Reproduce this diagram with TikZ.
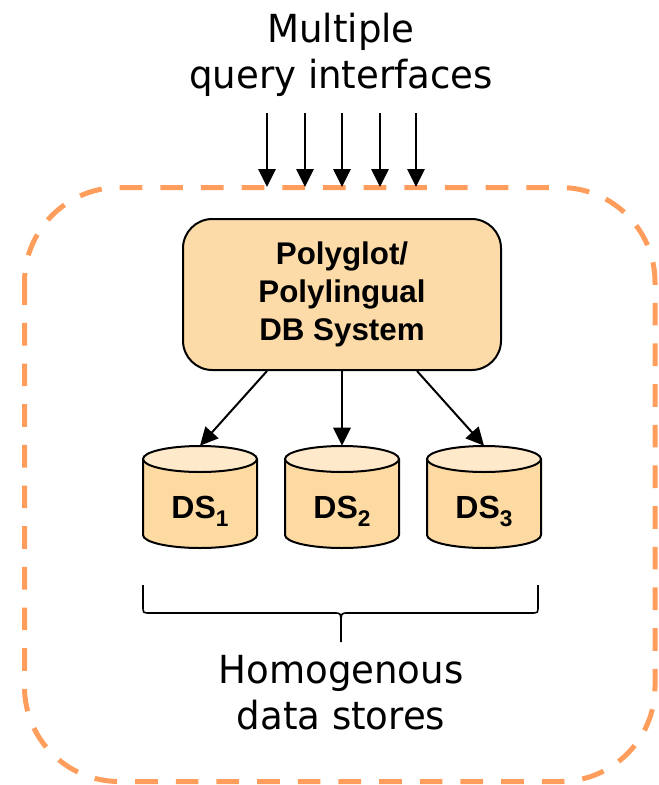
\documentclass[tikz,border=0pt]{standalone}
\usepackage{fontspec}
\setmainfont{Liberation Sans}
\newfontfamily\captionface[FakeStretch=0.96]{DejaVu Sans}
\usetikzlibrary{arrows.meta,calc}
\definecolor{frameorange}{RGB}{255,158,92}
\definecolor{boxfill}{RGB}{253,219,168}
\definecolor{cylbody}{RGB}{253,218,162}
\definecolor{cyltop}{RGB}{254,233,202}

% database cylinder: #1 name, #2 centre x, #3 index
\newcommand\dbcylinder[3]{%
  \fill[cylbody] ({#2-57},459) rectangle ({#2+57},535);
  \fill[cylbody] (#2,535) ellipse [x radius=57, y radius=13];
  \draw[cylline] ({#2-57},459) -- ({#2-57},535)
    .. controls ({#2-57},542.2) and ({#2-31.5},548) .. (#2,548)
    .. controls ({#2+31.5},548) and ({#2+57},542.2) .. ({#2+57},535)
    -- ({#2+57},459);
  \filldraw[cylline, fill=cyltop] (#2,459) ellipse [x radius=57, y radius=13];
  \node[cylslot] (#1) at (#2,497) {};
  \node[dslabel] (#1label) at (#2,518) {DS\raisebox{-6pt}{\fontsize{17}{17}\selectfont #3}};
}

\begin{document}
\begin{tikzpicture}[x=0.75pt, y=-0.75pt,
  arr/.style={line width=1.5pt, -{Triangle[length=13.5pt, width=13pt]}},
  caption/.style={font=\captionface\fontsize{29}{34.5}\selectfont, align=center, inner sep=0pt},
  dbbox/.style={draw, line width=1.5pt, fill=boxfill, rounded corners=22pt,
    minimum width=238.5pt, minimum height=113.25pt, align=center,
    font=\bfseries\fontsize{23.5}{28.5}\selectfont},
  cylline/.style={line width=1.5pt},
  cylslot/.style={minimum width=85.5pt, minimum height=76.5pt, inner sep=0pt},
  dslabel/.style={anchor=base, inner sep=0pt, font=\bfseries\fontsize{24}{24}\selectfont},
  frame/.style={frameorange, line width=3.75pt, dash pattern=on 17pt off 13.5pt, rounded corners=71pt}]
\useasboundingbox (0,0) rectangle (658,785);

% dashed system boundary
\draw[frame] (24.5,187.5) rectangle (655,781.5);

% query interfaces entering from above
\node[caption, anchor=north] (qi) at (341,13) {Multiple\\query interfaces};
\foreach \i/\x in {1/267, 2/305, 3/342, 4/380, 5/416} {
  \coordinate (q\i) at (\x,113);
  \coordinate (f\i) at (\x,187);
  \draw[arr] (q\i) -- (f\i);
}

% central system box
\node[dbbox] (sys) at (342,294.5) {Polyglot/\\Polylingual\\DB System};

% data stores
\dbcylinder{ds1}{200}{1}
\dbcylinder{ds2}{342}{2}
\dbcylinder{ds3}{484}{3}

\draw[arr] ($(sys.south)+(-75,0)$) -- (ds1.north);
\draw[arr] (sys.south) -- (ds2.north);
\draw[arr] ($(sys.south)+(75,0)$) -- (ds3.north);

% brace under the stores
\draw[line width=1.2pt] (143,585) -- (143,606) .. controls (143,613) .. (150,613)
  -- (334,613) .. controls (341,613) .. (341,624) -- (341,642)
  (341,624) .. controls (341,613) .. (348,613) -- (531,613)
  .. controls (538,613) .. (538,606) -- (538,585);

\node[caption, anchor=north] (hs) at (341,655) {Homogenous\\data stores};
\end{tikzpicture}
\end{document}
